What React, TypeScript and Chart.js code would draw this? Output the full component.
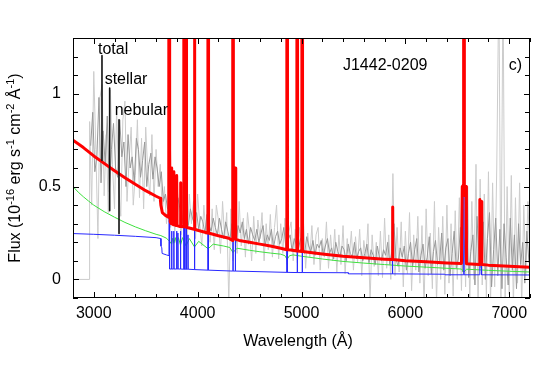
import React, { useEffect, useRef } from "react";
import { Chart, registerables } from "chart.js";

Chart.register(...registerables);

const FONT = '"Liberation Sans", Arial, Helvetica, sans-serif';

// ---- axis ticks ----
const xMajorTicks = [3000, 4000, 5000, 6000, 7000];
const xMinorTicks = [2800, 3000, 3200, 3400, 3600, 3800, 4000, 4200, 4400, 4600, 4800, 5000, 5200, 5400, 5600, 5800, 6000, 6200, 6400, 6600, 6800, 7000, 7200];
const yMajorTicks = [0, 0.5, 1];
const yMajorLabels = ["0", "0.5", "1"];
const yMinorTicks = [-0.1, 0, 0.1, 0.2, 0.3, 0.4, 0.5, 0.6, 0.7, 0.8, 0.9, 1, 1.1, 1.2, 1.3];

// ---- observed spectrum ----
// raw spectrum on grid rawStart + i*20, smoothed one on grid smoothStart + i*20
const obsLead = [[2800, 0], [2955, 0]];
const rawStart = 2960;
const smoothStart = 2970;
const obsStep = 20;
const obsRaw = [
  0.85, 0.40, 1.12, 0.70, 0.22, 0.98, 1.05, 0.45, 0.78, 0.36,
  1.02, 0.62, 0.38, 0.92, 0.50, 0.34, 0.86, 0.96, 0.42, 0.64,
  0.82, 0.40, 0.56, 0.86, 0.44, 0.76, 0.38, 0.82, 0.58, 0.45,
  0.78, 0.42, 0.70, 0.50, 0.62, 0.36, 0.50, 0.30, 0.46, 0.28,
  0.48, 0.26, 0.52, 0.36, 0.24, 0.50, 0.44, 0.22, 0.46, 0.30,
  0.42, 0.22, 0.46, 0.30, 0.18, 0.40, 0.24, 0.44, 0.20, 0.38,
  0.16, 0.40, 0.32, 0.14, 0.42, 0.22, 0.36, -0.12, 0.38, 0.10,
  0.36, 0.14, 0.42, 0.18, 0.33, 0.12, 0.36, 0.25, 0.10, 0.34,
  0.14, 0.32, 0.22, 0.36, 0.10, 0.30, 0.16, 0.35, 0.12, 0.28,
  0.40, 0.11, 0.30, 0.14, 0.33, 0.08, 0.26, 0.31, 0.10, 0.27,
  0.09, 0.28, 0.17, 0.30, 0.06, 0.25, 0.12, 0.29, 0.08, 0.24,
  0.28, 0.05, 0.22, 0.12, 0.31, 0.06, 0.24, 0.10, 0.27, 0.04,
  0.24, 0.08, 0.29, 0.03, 0.22, 0.12, 0.26, 0.05, 0.23, 0.09,
  0.27, 0.02, 0.21, 0.11, 0.30, -0.12, 0.24, 0.07, 0.20, 0.02,
  0.26, 0.01, 0.33, 0.06, 0.24, 0.00, 0.57, 0.02, 0.28, 0.04,
  0.31, -0.04, 0.26, 0.03, 0.36, -0.06, 0.24, 0.05, 0.34, -0.02,
  0.29, -0.15, 0.38, 0.02, 0.25, -0.05, 0.42, -0.12, 0.28, 0.00,
  0.34, -0.08, 0.40, -0.02, 0.30, -0.09, 0.37, 0.00, 0.44, -0.06,
  0.38, -0.04, 0.50, -0.12, 0.42, 0.00, 0.62, -0.15, 0.54, -0.03,
  0.46, -0.10, 0.58, -0.13, 0.52, -0.04, 0.60, 1.60, -0.12, 1.60,
  -0.15, 0.50, -0.08, 0.56, -0.15, 0.44, -0.02, 0.52, -0.15, 0.40,
  0.02, 0.42, 0.10,
];
const obsSmooth = [
  0.72, 0.90, 0.58, 0.66, 0.98, 0.52, 0.80, 0.62, 0.88, 0.47,
  0.70, 0.84, 0.60, 0.55, 0.86, 0.66, 0.74, 0.50, 0.78, 0.60,
  0.66, 0.52, 0.76, 0.70, 0.55, 0.64, 0.74, 0.50, 0.62, 0.68,
  0.54, 0.66, 0.60, 0.50, 0.58, 0.42, 0.46, 0.38, 0.43, 0.34,
  0.40, 0.33, 0.44, 0.38, 0.30, 0.41, 0.35, 0.29, 0.38, 0.33,
  0.30, 0.36, 0.27, 0.34, 0.31, 0.25, 0.35, 0.29, 0.26, 0.33,
  0.28, 0.24, 0.33, 0.27, 0.22, 0.31, 0.26, 0.21, 0.30, 0.24,
  0.20, 0.29, 0.25, 0.31, 0.22, 0.27, 0.19, 0.28, 0.24, 0.21,
  0.27, 0.20, 0.25, 0.29, 0.18, 0.24, 0.21, 0.27, 0.17, 0.23,
  0.26, 0.19, 0.22, 0.28, 0.17, 0.21, 0.24, 0.15, 0.22, 0.19,
  0.16, 0.22, 0.19, 0.14, 0.23, 0.18, 0.15, 0.21, 0.13, 0.19,
  0.17, 0.21, 0.13, 0.18, 0.22, 0.14, 0.17, 0.11, 0.20, 0.15,
  0.12, 0.18, 0.16, 0.10, 0.19, 0.14, 0.12, 0.20, 0.11, 0.15,
  0.17, 0.10, 0.14, 0.19, 0.09, 0.16, 0.13, 0.08, 0.18, 0.12,
  0.10, 0.16, 0.13, 0.20, 0.08, 0.15, 0.30, 0.11, 0.07, 0.17,
  0.12, 0.18, 0.05, 0.14, 0.20, 0.07, 0.16, 0.22, 0.04, 0.13,
  0.19, 0.06, 0.12, 0.23, 0.03, 0.15, 0.21, 0.08, 0.10, 0.25,
  0.05, 0.17, 0.22, 0.02, 0.14, 0.26, 0.06, 0.11, 0.28, 0.04,
  0.18, 0.30, 0.01, 0.15, 0.24, -0.03, 0.34, 0.10, 0.06, 0.31,
  0.00, 0.22, 0.36, -0.04, 0.16, 0.33, 0.02, 0.27, -0.05, 0.30,
  0.12, -0.03, 0.33, 0.05, 0.24, -0.05, 0.30, 0.08, 0.20, -0.02,
  0.26, 0.09,
];

// ---- model spectra [wavelength, flux] ----
const totalModel = [
  [2800, 0.75], [2900, 0.71], [3000, 0.665], [3100, 0.625], [3200, 0.585], [3300, 0.548],
  [3400, 0.512], [3500, 0.478], [3600, 0.448], [3640, 0.437], [3646, 0.40], [3660, 0.36],
  [3690, 0.345], [3720, 0.335], [3722, 0.9], [3725, 3.0], [3729, 3.0], [3732, 0.7], [3736, 0.31],
  [3746, 0.30], [3750, 0.60], [3754, 0.30], [3767, 0.295], [3771, 0.58], [3775, 0.295],
  [3794, 0.29], [3798, 0.56], [3802, 0.29], [3831, 0.285], [3835, 0.52], [3839, 0.285],
  [3865, 0.283], [3867, 3.0], [3871, 3.0], [3873, 0.283], [3885, 0.282], [3887, 3.0], [3891, 3.0], [3893, 0.282],
  [3900, 0.28], [3966, 0.27], [3968, 3.0], [3972, 3.0], [3974, 0.27], [4000, 0.265], [4097, 0.25],
  [4099, 3.0], [4103, 3.0], [4105, 0.25], [4200, 0.235], [4300, 0.222], [4336, 0.21], [4338, 3.0], [4342, 3.0],
  [4344, 0.218], [4359, 0.218], [4363, 0.6], [4367, 0.216], [4400, 0.21], [4500, 0.20],
  [4600, 0.19], [4700, 0.18], [4800, 0.168], [4857, 0.16], [4859, 3.0], [4863, 3.0], [4865, 0.16],
  [4900, 0.158], [4955, 0.153], [4957, 3.0], [4961, 3.0], [4963, 0.153], [5003, 0.151], [5005, 3.0], [5009, 3.0],
  [5011, 0.15], [5200, 0.137], [5400, 0.125], [5600, 0.117], [5800, 0.109], [5872, 0.107],
  [5876, 0.39], [5880, 0.107], [6000, 0.101], [6200, 0.095], [6400, 0.089], [6540, 0.086],
  [6544, 0.086], [6548, 0.50], [6552, 0.45], [6558, 0.51], [6561, 3.0], [6565, 3.0], [6568, 0.51],
  [6576, 0.45], [6584, 0.50], [6588, 0.085], [6712, 0.081], [6717, 0.43], [6724, 0.36],
  [6731, 0.42], [6736, 0.081], [6800, 0.077], [7000, 0.071], [7200, 0.065],
];
const stellarModel = [
  [2800, 0.50], [2850, 0.47], [2900, 0.445], [2950, 0.422], [3000, 0.40], [3100, 0.365],
  [3200, 0.335], [3300, 0.307], [3400, 0.283], [3500, 0.262], [3600, 0.243], [3646, 0.236],
  [3700, 0.222], [3730, 0.205], [3750, 0.19], [3760, 0.222], [3771, 0.195], [3785, 0.225],
  [3798, 0.19], [3815, 0.225], [3835, 0.185], [3855, 0.225], [3889, 0.18], [3920, 0.22],
  [3970, 0.175], [4010, 0.205], [4101, 0.165], [4150, 0.19], [4250, 0.18], [4310, 0.172],
  [4340, 0.145], [4380, 0.168], [4500, 0.157], [4600, 0.149], [4700, 0.142], [4800, 0.136],
  [4840, 0.128], [4861, 0.108], [4885, 0.128], [4920, 0.132], [5000, 0.125], [5200, 0.11],
  [5400, 0.097], [5600, 0.088], [5800, 0.08], [6000, 0.072], [6200, 0.066], [6400, 0.06],
  [6540, 0.056], [6563, 0.04], [6590, 0.055], [6800, 0.049], [7000, 0.044], [7200, 0.04],
];
const nebularModel = [
  [2800, 0.247], [3000, 0.243], [3200, 0.238], [3400, 0.232], [3600, 0.225], [3645, 0.22],
  [3647, 0.18], [3655, 0.17], [3658, 0.14], [3700, 0.132], [3724, 0.128], [3727, 3.0],
  [3730, 0.056], [3748, 0.056], [3750, 0.26], [3752, 0.056], [3769, 0.056], [3771, 0.26],
  [3773, 0.056], [3796, 0.056], [3798, 0.26], [3800, 0.056], [3808, 0.056], [3810, 0.25],
  [3812, 0.056], [3833, 0.056], [3835, 0.26], [3837, 0.056], [3867, 0.055], [3869, 3.0],
  [3871, 0.055], [3887, 0.055], [3889, 3.0], [3891, 0.055], [3905, 0.055], [3907, 0.24],
  [3909, 0.055], [3968, 0.053], [3970, 3.0], [3972, 0.053], [4099, 0.05], [4101, 3.0],
  [4103, 0.05], [4338, 0.045], [4340, 3.0], [4342, 0.045], [4361, 0.045], [4363, 0.3],
  [4365, 0.045], [4859, 0.038], [4861, 3.0], [4863, 0.038], [4957, 0.037], [4959, 3.0],
  [4961, 0.037], [5005, 0.037], [5007, 3.0], [5009, 0.037], [5450, 0.036], [5452, 0.03],
  [5874, 0.03], [5876, 0.1], [5878, 0.03], [6380, 0.028], [6382, 0.025], [6561, 0.025],
  [6563, 3.0], [6565, 0.025], [6715, 0.025], [6717, 0.15], [6724, 0.12], [6731, 0.15],
  [6733, 0.025], [7200, 0.024],
];

// ---- label pointers [wavelength, flux top, flux bottom] ----
const pointerTotal = [3079, 1.205, 0.64];
const pointerStellar = [3153, 1.03, 0.37];
const pointerNebular = [3243, 0.86, 0.247];
const labelTexts = ["total", "stellar", "nebular"];
const labelPos = [[3041, 1.215], [3105, 1.05], [3201, 0.883]];
const objectName = "J1442-0209";
const objectPos = [5399, 1.129];
const panelTag = "c)";
const panelPos = [6996, 1.129];

const toXY = (pairs: number[][]) => pairs.map(([x, y]) => ({ x, y }));
const gridXY = (vals: number[], start: number) => vals.map((y, i) => ({ x: start + i * obsStep, y }));
const pointerXY = (p: number[]) => [{ x: p[0], y: p[1] }, { x: p[0], y: p[2] }];

const yTitleParts: [string, boolean][] = [
  ["Flux (10", false], ["-16", true], [" erg s", false], ["-1", true], [" cm", false],
  ["-2", true], [" \u00C5", false], ["-1", true], [")", false],
];

const decorPlugin = {
  id: "decor",
  afterDatasetsDraw(chart: any) {
    const { ctx, chartArea: a, scales } = chart;
    const xs = scales.x;
    const ys = scales.y;
    ctx.save();
    ctx.strokeStyle = "#000";
    ctx.lineWidth = 1;
    ctx.beginPath();
    const xt = (v: number, len: number) => {
      const px = Math.round(xs.getPixelForValue(v)) + 0.5;
      ctx.moveTo(px, a.bottom);
      ctx.lineTo(px, a.bottom - len);
      ctx.moveTo(px, a.top);
      ctx.lineTo(px, a.top + len);
    };
    const yt = (v: number, len: number) => {
      const py = Math.round(ys.getPixelForValue(v)) + 0.5;
      ctx.moveTo(a.left, py);
      ctx.lineTo(a.left + len, py);
      ctx.moveTo(a.right, py);
      ctx.lineTo(a.right - len, py);
    };
    xMinorTicks.forEach((v) => xt(v, 4));
    xMajorTicks.forEach((v) => xt(v, 6));
    yMinorTicks.forEach((v) => yt(v, 5));
    yMajorTicks.forEach((v) => yt(v, 6));
    ctx.stroke();
    ctx.strokeRect(a.left + 0.5, a.top + 0.5, a.right - a.left - 1, a.bottom - a.top - 1);
    ctx.restore();
  },
  afterDraw(chart: any) {
    const { ctx, chartArea: a, scales } = chart;
    const xs = scales.x;
    const ys = scales.y;
    ctx.save();
    ctx.fillStyle = "#000";
    ctx.font = `16px ${FONT}`;

    // tick labels
    ctx.textBaseline = "middle";
    ctx.textAlign = "right";
    yMajorTicks.forEach((v, i) => ctx.fillText(yMajorLabels[i], 61, ys.getPixelForValue(v)));
    ctx.textAlign = "center";
    xMajorTicks.forEach((v) => ctx.fillText(String(v), xs.getPixelForValue(v), a.bottom + 16));

    // annotations
    ctx.textBaseline = "alphabetic";
    ctx.textAlign = "left";
    labelTexts.forEach((t, i) => {
      ctx.fillText(t, xs.getPixelForValue(labelPos[i][0]), ys.getPixelForValue(labelPos[i][1]));
    });
    ctx.fillText(objectName, xs.getPixelForValue(objectPos[0]), ys.getPixelForValue(objectPos[1]));
    ctx.fillText(panelTag, xs.getPixelForValue(panelPos[0]), ys.getPixelForValue(panelPos[1]));

    // x title
    ctx.textAlign = "center";
    ctx.fillText("Wavelength (\u00C5)", 298, 346);

    // y title with superscripts
    const big = `16px ${FONT}`;
    const small = `11px ${FONT}`;
    let total = 0;
    yTitleParts.forEach(([t, sup]) => {
      ctx.font = sup ? small : big;
      total += ctx.measureText(t).width;
    });
    const cy = (a.top + a.bottom) / 2;
    ctx.translate(20, cy + total / 2);
    ctx.rotate(-Math.PI / 2);
    ctx.textAlign = "left";
    let cx = 0;
    yTitleParts.forEach(([t, sup]) => {
      ctx.font = sup ? small : big;
      ctx.fillText(t, cx, sup ? -6 : 0);
      cx += ctx.measureText(t).width;
    });
    ctx.restore();
  },
};

export default function App() {
  const ref = useRef<HTMLCanvasElement | null>(null);
  useEffect(() => {
    if (!ref.current) return;
    const base = { pointRadius: 0, tension: 0, fill: false, clip: 0, borderJoinStyle: "round" as const };
    const chart = new Chart(ref.current, {
      type: "line",
      data: {
        datasets: [
          { ...base, data: pointerXY(pointerTotal), borderColor: "#111", borderWidth: 1.6, order: -1 },
          { ...base, data: pointerXY(pointerStellar), borderColor: "#111", borderWidth: 1.6, order: -1 },
          { ...base, data: pointerXY(pointerNebular), borderColor: "#111", borderWidth: 1.6, order: -1 },
          { ...base, data: toXY(totalModel), borderColor: "#ff0000", borderWidth: 3, order: 0 },
          { ...base, data: toXY(nebularModel), borderColor: "#2828ff", borderWidth: 1, order: 1 },
          { ...base, data: toXY(stellarModel), borderColor: "#3ee03e", borderWidth: 1, order: 2 },
          { ...base, data: gridXY(obsSmooth, smoothStart), borderColor: "#999999", borderWidth: 1, order: 3 },
          { ...base, data: [...toXY(obsLead), ...gridXY(obsRaw, rawStart)], borderColor: "#cccccc", borderWidth: 1, order: 4 },
        ] as any,
      },
      options: {
        responsive: false,
        maintainAspectRatio: false,
        animation: false,
        devicePixelRatio: 1,
        layout: { padding: { top: 38, right: 8, left: 0, bottom: 0 } },
        plugins: { legend: { display: false }, tooltip: { enabled: false } },
        events: [],
        scales: {
          x: {
            type: "linear",
            min: 2800,
            max: 7200,
            afterBuildTicks: (s: any) => { s.ticks = xMajorTicks.map((v) => ({ value: v })); },
            afterFit: (s: any) => { s.height = 68; },
            ticks: { display: false },
            grid: { display: false, drawTicks: false, tickLength: 0 },
            border: { display: false },
          },
          y: {
            type: "linear",
            min: -0.1,
            max: 1.3,
            afterBuildTicks: (s: any) => { s.ticks = yMajorTicks.map((v) => ({ value: v })); },
            afterFit: (s: any) => { s.width = 73; },
            ticks: { display: false },
            grid: { display: false, drawTicks: false, tickLength: 0 },
            border: { display: false },
          },
        },
      } as any,
      plugins: [decorPlugin],
    });
    return () => chart.destroy();
  }, []);
  return (
    <div style={{ position: "absolute", left: 0, top: 0, width: 538, height: 366, background: "#fff" }}>
      <canvas ref={ref} width={538} height={366} style={{ display: "block" }} />
    </div>
  );
}
